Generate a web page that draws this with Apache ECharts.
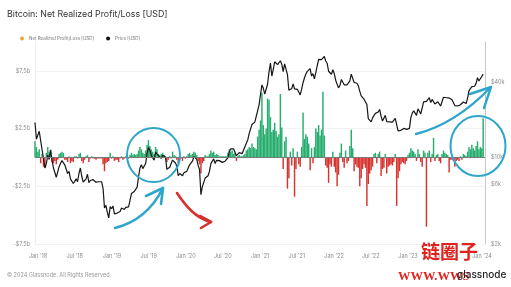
<!DOCTYPE html>
<html><head><meta charset="utf-8">
<script src="https://cdn.jsdelivr.net/npm/echarts@6/dist/echarts.min.js"></script>
<style>html,body{margin:0;padding:0;background:#fff}#c{width:511px;height:287px}</style>
</head><body><div id="c"></div>
<script>
// Weekly samples starting 2017-12-17
const firstWeek = Date.UTC(2017, 11, 17);

// BTC price [USD]
const price2017 = [19100, 14000, 13800];
const price2018 = [16200,13600,11500,11700, 8200,8900,10400,9600, 11500,9500,8200,8400, 6900,7000,8400,8900,9400, 9600,8700,8500,7400, 7700,6700,6500,6150, 6400,6700,6350,7400,8200, 7000,6300,6400,6700, 7300,6250,6500,6700,6600, 6600,6300,6500,6350, 6400,6350,5600,3900, 4100,3600,3250,4000,3850];
const price2019 = [4050,3500,3550,3550, 3450,3650,3900,3850, 3800,3950,4050,3990,4100, 5100,5150,5300,5200, 5750,6950,8200,8700, 8100,8000,8900,10700,12000, 11400,10300,10600,9500, 11000,11400,10300,10100, 9800,10400,10300,10000,8000, 7900,8300,8200,9500, 9300,9000,8500,7100, 7400,7500,7100,7500,7300];
const price2020 = [7700,8200,8700,8600, 9300,10100,9900,9700, 8600,8000,5000,5800,5900, 6800,6900,7100,7700, 8900,8700,9700,8900,9450, 9750,9400,9300,9100, 9100,9300,9200,9900, 11100,11700,11900,11700,11700, 10300,10300,10900,10700, 10700,11400,11500,13000, 13800,15500,15900,18400,18200, 19200,19200,23800,26500];
const price2021 = [32000,38300,36000,32300,33100, 39000,48800,57500,45200, 51200,58900,57500,55800, 57000,60000,56200,49100, 56600,58300,46400,34700,35700, 35800,39100,35600,34700, 35300,34300,31800,35400, 39900,43800,47000,49300,48800, 51800,45200,47300,42800, 48200,54700,61500,60900,61300, 63300,65000,59700,57300, 49400,50100,46700,50800];
const price2022 = [47300,41800,43100,36300,37900, 42400,42200,38400,37700, 38400,37800,41300,46800, 46400,40100,39700,39500, 37700,34000,31300,30300,29400, 29900,26600,20500,21000, 19300,20800,20800,22600,23300, 23200,24300,21500,19600, 19800,21800,19400,18900, 19300,19400,19200,19600,20600, 21000,16300,16300,16500, 17100,17100,16800,16800];
const price2023 = [16600,17100,20900,22700,23700, 22900,21800,24600,23500, 22400,22100,28000,27900, 28200,28300,30300,27600,29300, 28700,26900,26800,28000, 27100,25900,26300,30500, 30600,30200,30300,30100,29300, 29100,29300,26100,26000, 25900,25800,26500,26300, 27900,27500,27100,30000,34500, 35000,37100,37400,37400, 39500,43800,41300,43000,42300];
const price2024 = [46800];

// Net Realized Profit/Loss [USD billions]
const nrpl2017 = [1.4, 0.9, 0.5];
const nrpl2018 = [0.7,-0.5,0.3,-0.8, -0.9,0.4,0.9,0.5, 0.6,-0.4,-0.5,-0.3, -0.6,-0.2,0.3,0.4,0.5, 0.4,-0.2,-0.2,-0.4, 0.1,-0.5,-0.3,-0.4, 0.1,0.1,-0.1,0.3,0.4, -0.3,-0.5,-0.2,0.1, 0.2,-0.4,-0.1,0.1,-0.1, -0.1,-0.2,-0.1,-0.1, -0.1,-0.1,-0.6,-1.2, -0.5,-0.4,-0.3,0.4,-0.1];
const nrpl2019 = [0.1,-0.3,-0.2,-0.2, -0.4,-0.1,0.1,-0.2, -0.1,0.1,0.1,-0.1,0.2, 0.4,0.2,0.3,0.2, 0.3,0.6,0.9,0.7, 0.4,0.3,0.6,1.1,1.5, 1.0,0.7,0.5,0.3, 0.9,0.7,0.3,0.2, 0.3,0.4,0.2,0.1,-0.4, -0.2,0.1,-0.1,0.5, 0.2,0.1,-0.2,-0.5, -0.2,-0.1,-0.3,0.1,-0.1];
const nrpl2020 = [0.1,0.3,0.4,0.2, 0.3,0.5,0.4,0.2, -0.3,-0.6,-1.4,-0.5,-0.3, 0.2,0.1,0.1,0.3, 0.6,0.4,0.5,0.2,0.3, 0.2,0.1,0.1,0.1, 0.1,0.1,0.1,0.4, 0.7,0.5,0.6,0.3,0.4, -0.3,0.1,0.2,0.1, 0.1,0.2,0.3,0.6, 0.7,0.9,0.8,1.2,0.9, 0.8,0.7,1.8,2.4];
const nrpl2021 = [3.2,5.6,2.8,2.0,2.5, 5.1,5.0,3.5,2.2, 2.4,3.0,2.3,1.8, 2.0,5.5,2.6,-1.0, 1.4,1.8,-2.7,-1.8,0.5, -0.7,0.8,-3.4,-1.0, 0.5,-0.6,-0.8,0.9, 3.9,1.6,2.0,1.8,1.2, -1.1,0.8,-0.5,0.9, 2.5,2.2,2.8,1.9,2.4, 5.7,1.9,-0.7,-0.9, -2.2,-0.6,-0.8,0.5];
const nrpl2022 = [-0.8,-1.3,-2.5,-1.5,0.4, 1.2,-0.4,-0.9,0.6, -0.5,-0.3,1.0,2.4, 0.8,-1.2,-0.6,-0.8, -0.9,-2.5,-1.8,-1.0,-0.6, -0.9,-4.2,-2.3,-1.4, -1.1,-0.8,0.3,0.4,-0.5, 0.3,0.5,-1.6,-1.0, -0.9,0.3,-1.4,-0.8, -0.7,-0.6,-0.7,-0.4,0.3, -4.2,-1.8,-1.2,-0.6, -0.4,-0.5,-0.6,-0.3];
const nrpl2023 = [0.2,0.4,0.8,0.6,0.5, 0.3,-0.3,0.7,0.3, -0.4,-0.8,0.6,0.4, -6.0,0.4,0.6,-0.4,0.3, 1.7,-0.3,0.2,0.3, -0.3,-0.5,0.3,0.6, 0.4,0.3,0.2,-1.3,-0.2, -0.2,-0.3,-0.8,-0.3, -0.2,-0.3,0.1,-0.2, 0.3,0.2,0.1,0.5,0.9, 0.7,1.1,0.8,0.6, 1.0,1.4,0.7,0.9,0.8];
const nrpl2024 = [3.4];

// Tick labels
const xTickMonths = [[2018,0],[2018,6],[2019,0],[2019,6],[2020,0],[2020,6],[2021,0],[2021,6],[2022,0],[2022,6],[2023,0],[2023,6],[2024,0]];
const leftTicks = [-7.5, -2.5, 2.5, 7.5];
const rightTicks = [2000, 6000, 10000, 40000];

const priceUSD = [].concat(price2017, price2018, price2019, price2020, price2021, price2022, price2023, price2024);
const nrplB = [].concat(nrpl2017, nrpl2018, nrpl2019, nrpl2020, nrpl2021, nrpl2022, nrpl2023, nrpl2024);
const weekTimes = priceUSD.map((_, i) => firstWeek + i * 7 * 86400000);

const GREEN = '#27ad6e', RED = '#d7332f', LABEL = '#8c8c8c', FONT = 'Inter, "Noto Sans", sans-serif';
const xTicks = xTickMonths.map(([y, m]) => Date.UTC(y, m, 1));
const MON = ['Jan','Feb','Mar','Apr','May','Jun','Jul','Aug','Sep','Oct','Nov','Dec'];

const chart = echarts.init(document.getElementById('c'), null, {renderer: 'canvas'});
const blue = '#2ea6cb';
chart.setOption({
  animation: false,
  backgroundColor: '#fff',
  title: {text: 'Bitcoin: Net Realized Profit/Loss [USD]', left: 7, top: 10, padding: 0,
    textStyle: {fontSize: 8.8, fontWeight: 'normal', color: '#333', fontFamily: FONT}},
  legend: {left: 20, top: 36, padding: 0, itemWidth: 4, itemHeight: 4, itemGap: 12, icon: 'circle',
    textStyle: {fontSize: 4.5, color: '#777', fontFamily: FONT},
    data: [{name: 'Net Realized Profit/Loss [USD]', itemStyle: {color: '#f2a33a'}},
           {name: 'Price [USD]', itemStyle: {color: '#111'}}]},
  grid: {left: 35, right: 26, top: 42, bottom: 43, containLabel: false},
  xAxis: {type: 'value', min: Date.UTC(2017, 11, 17), max: Date.UTC(2024, 0, 16),
    axisLine: {show: false}, axisTick: {show: false, customValues: xTicks}, splitLine: {show: false},
    axisLabel: {customValues: xTicks, fontSize: 5.5, color: LABEL, fontFamily: FONT, margin: 9,
      formatter: v => { const d = new Date(v); return MON[d.getUTCMonth()] + " '" + String(d.getUTCFullYear()).slice(2); }}},
  yAxis: [
    {type: 'value', min: -7.5, max: 10, position: 'left',
      axisLine: {show: true, lineStyle: {color: '#f1ede4'}},
      axisTick: {show: false, customValues: leftTicks},
      splitLine: {show: true, lineStyle: {color: '#f3f3f3', width: 1}},
      axisLabel: {customValues: leftTicks, fontSize: 5.5, color: LABEL, fontFamily: FONT, margin: 5,
        formatter: v => (v < 0 ? '-$' : '$') + Math.abs(v).toFixed(1) + 'b'}},
    {type: 'log', logBase: 10, min: 2000, max: 85000, position: 'right',
      axisLine: {show: true, lineStyle: {color: '#c8c8c8'}},
      axisTick: {show: false},
      splitLine: {show: false},
      axisLabel: {customValues: rightTicks, fontSize: 5.5, color: LABEL, fontFamily: FONT, margin: 6,
        formatter: v => '$' + Math.round(v / 1000) + 'k'}}
  ],
  series: [
    {name: 'Net Realized Profit/Loss [USD]', type: 'bar', yAxisIndex: 0, barWidth: 1.45,
      data: nrplB.map((v, i) => [weekTimes[i], v]),
      itemStyle: {color: p => p.value[1] >= 0 ? GREEN : RED},
      markLine: {silent: true, symbol: 'none', label: {show: false},
        lineStyle: {color: '#7a7a7a', width: 1, type: 'solid'}, data: [{yAxis: 0}]}},
    {name: 'Price [USD]', type: 'line', yAxisIndex: 1, showSymbol: false, symbol: 'none',
      lineStyle: {color: '#161616', width: 1.2}, itemStyle: {color: '#111'}, z: 3,
      data: priceUSD.map((v, i) => [weekTimes[i], v])}
  ],
  graphic: [
    {type: 'ellipse', shape: {cx: 153.5, cy: 155, rx: 26.5, ry: 27}, style: {fill: 'none', stroke: blue, lineWidth: 2}, z: 50},
    {type: 'ellipse', shape: {cx: 478, cy: 146, rx: 27.5, ry: 30}, style: {fill: 'none', stroke: blue, lineWidth: 2}, z: 50},
    {type: 'bezierCurve', shape: {x1: 115, y1: 228, cpx1: 135, cpy1: 223, cpx2: 152, cpy2: 210, x2: 163, y2: 188}, style: {fill: 'none', stroke: blue, lineWidth: 2.6, lineCap: 'round'}, z: 50},
    {type: 'polyline', shape: {points: [[146, 196], [163, 188], [161, 204]]}, style: {fill: 'none', stroke: blue, lineWidth: 2.6, lineCap: 'round', lineJoin: 'round'}, z: 50},
    {type: 'bezierCurve', shape: {x1: 177, y1: 193, cpx1: 185, cpy1: 205, cpx2: 195, cpy2: 218, x2: 211, y2: 222}, style: {fill: 'none', stroke: '#d8302c', lineWidth: 2.6, lineCap: 'round'}, z: 50},
    {type: 'polyline', shape: {points: [[200, 216], [211, 222], [201, 228]]}, style: {fill: 'none', stroke: '#d8302c', lineWidth: 2.6, lineCap: 'round', lineJoin: 'round'}, z: 50},
    {type: 'bezierCurve', shape: {x1: 416, y1: 134, cpx1: 440, cpy1: 128, cpx2: 465, cpy2: 114, x2: 491, y2: 87}, style: {fill: 'none', stroke: blue, lineWidth: 2.4, lineCap: 'round'}, z: 50},
    {type: 'polyline', shape: {points: [[470, 94], [491, 87], [484, 108]]}, style: {fill: 'none', stroke: blue, lineWidth: 2.4, lineCap: 'round', lineJoin: 'round'}, z: 50},
    {type: 'text', left: 7, top: 272, style: {text: '© 2024 Glassnode. All Rights Reserved.', fontSize: 5.5, fill: '#999', fontFamily: FONT}},
    {type: 'text', left: 421, top: 242, z: 60, style: {text: '链圈子', fontSize: 19, fontWeight: 'bold', fill: '#e1211c', fontFamily: '"Noto Sans CJK SC", sans-serif'}},
    {type: 'text', left: 398, top: 270, z: 60, style: {text: 'WWW.WWS', fontSize: 12.5, fontWeight: 'bold', fill: '#e1211c', fontFamily: '"Liberation Serif", serif'}},
    {type: 'text', left: 457, top: 270, z: 61, style: {text: 'glassnode', fontSize: 10, fontWeight: 500, fill: '#222', fontFamily: FONT}}
  ]
});
</script></body></html>
